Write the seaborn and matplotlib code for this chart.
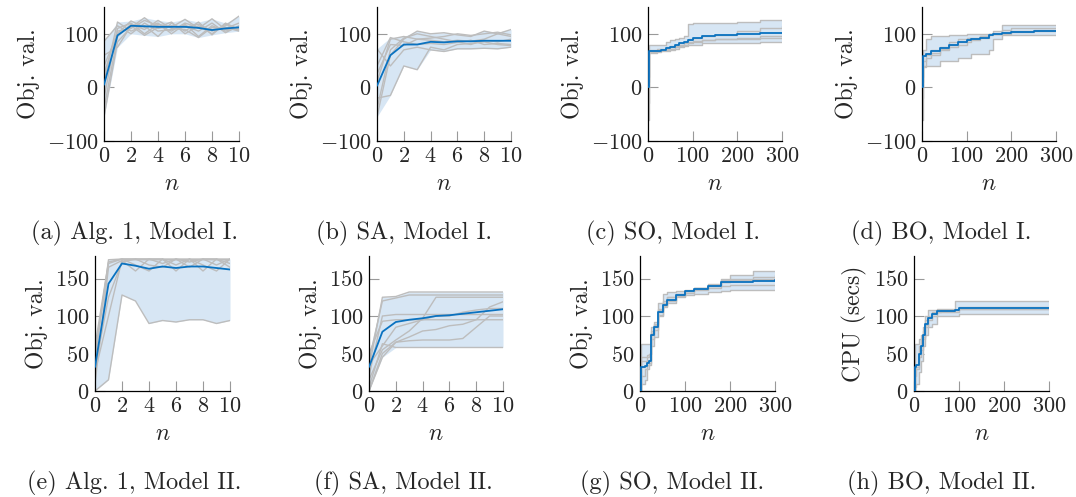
import numpy as np
import pandas as pd
import seaborn as sns
import matplotlib
matplotlib.use("Agg")
import matplotlib.pyplot as plt

# ---- data ----
# (a) Alg. 1, Model I
n_a = [0, 1, 2, 3, 4, 5, 6, 7, 8, 9, 10]
runs_a = [
    [-55, 85, 112, 130, 110, 115, 112, 118, 105, 115, 133],
    [-20, 110, 120, 100, 118, 112, 127, 110, 128, 108, 110],
    [10, 122, 105, 115, 95, 120, 105, 122, 98, 120, 108],
    [40, 100, 124, 112, 120, 100, 118, 95, 115, 105, 112],
    [60, 75, 115, 97, 112, 122, 100, 115, 100, 118, 106],
    [86, 115, 100, 120, 105, 108, 115, 105, 120, 102, 115],
    [-40, 95, 118, 108, 125, 110, 108, 93, 112, 110, 120],
    [25, 105, 110, 125, 115, 105, 120, 112, 108, 112, 105],
]
mean_a = [5, 97, 115, 114, 113, 113, 113, 111, 107, 110, 112]

# (b) SA, Model I
n_b = [0, 1, 2, 3, 4, 5, 6, 7, 8, 9, 10]
runs_b = [
    [-55, 60, 90, 105, 100, 102, 98, 95, 105, 100, 108],
    [-20, -15, 40, 33, 75, 70, 80, 82, 85, 80, 78],
    [10, 90, 95, 90, 88, 85, 88, 86, 90, 100, 95],
    [40, 93, 85, 80, 82, 80, 84, 88, 80, 82, 80],
    [72, 40, 70, 75, 70, 67, 72, 72, 73, 72, 75],
    [25, 80, 78, 90, 92, 95, 100, 97, 100, 103, 98],
    [-40, 70, 92, 100, 95, 90, 85, 80, 88, 85, 90],
]
mean_b = [3, 60, 80, 80, 85, 84, 86, 86, 87, 87, 87]

# (c) SO, Model I
n_c = [0, 3, 10, 20, 30, 40, 50, 60, 70, 80, 90, 100, 120, 150, 200, 250, 300]
runs_c = [
    [-60, 80, 80, 80, 80, 85, 88, 90, 92, 95, 118, 120, 120, 120, 122, 125, 125],
    [0, 65, 65, 67, 70, 72, 75, 78, 80, 85, 90, 92, 95, 98, 105, 110, 115],
    [20, 68, 68, 68, 70, 70, 72, 75, 78, 80, 82, 85, 88, 90, 92, 95, 95],
    [-30, 70, 70, 72, 72, 75, 78, 80, 82, 83, 85, 87, 88, 90, 90, 92, 92],
    [10, 66, 66, 66, 67, 67, 70, 72, 75, 78, 80, 80, 82, 82, 83, 84, 85],
]
mean_c = [0, 67, 67, 68, 70, 73, 76, 79, 82, 85, 89, 92, 95, 98, 100, 102, 102]

# (d) BO, Model I
n_d = [0, 3, 10, 20, 40, 60, 80, 100, 110, 130, 150, 160, 180, 200, 250, 300]
runs_d = [
    [-60, 40, 40, 40, 50, 50, 55, 55, 62, 62, 70, 90, 97, 97, 97, 97],
    [0, 60, 62, 70, 75, 80, 85, 88, 90, 92, 98, 100, 100, 103, 105, 105],
    [20, 70, 90, 95, 95, 98, 98, 100, 100, 100, 100, 100, 117, 117, 117, 117],
    [-20, 38, 55, 60, 72, 85, 90, 92, 92, 95, 100, 105, 108, 110, 110, 110],
    [10, 50, 60, 65, 70, 75, 80, 85, 88, 95, 100, 100, 102, 105, 108, 108],
]
mean_d = [0, 58, 63, 67, 73, 80, 85, 88, 90, 92, 97, 100, 102, 103, 105, 106]

# (e) Alg. 1, Model II
n_e = [0, 1, 2, 3, 4, 5, 6, 7, 8, 9, 10]
runs_e = [
    [0, 15, 128, 120, 90, 94, 92, 95, 95, 90, 94],
    [25, 100, 175, 175, 175, 175, 175, 175, 175, 175, 175],
    [60, 172, 176, 168, 160, 176, 160, 176, 168, 160, 176],
    [40, 175, 176, 176, 176, 170, 176, 165, 176, 176, 165],
    [10, 165, 174, 160, 176, 176, 168, 176, 160, 176, 170],
    [50, 170, 176, 176, 168, 165, 176, 172, 176, 168, 176],
    [30, 125, 172, 176, 176, 176, 176, 176, 176, 176, 176],
]
mean_e = [32, 143, 170, 167, 163, 166, 164, 166, 166, 164, 162]

# (f) SA, Model II
n_f = [0, 1, 2, 3, 4, 5, 6, 7, 8, 9, 10]
runs_f = [
    [0, 45, 65, 72, 80, 82, 87, 89, 95, 112, 119],
    [30, 125, 126, 132, 132, 132, 132, 132, 132, 132, 132],
    [5, 63, 58, 58, 58, 58, 58, 58, 58, 58, 58],
    [40, 120, 124, 128, 128, 128, 128, 128, 128, 128, 128],
    [20, 100, 102, 102, 102, 102, 102, 102, 102, 102, 102],
    [50, 93, 95, 95, 95, 95, 95, 95, 95, 95, 95],
    [15, 55, 68, 80, 97, 125, 125, 125, 125, 125, 125],
    [0, 50, 65, 67, 68, 68, 68, 70, 85, 100, 100],
    [35, 60, 85, 90, 95, 100, 100, 105, 108, 110, 110],
]
mean_f = [32, 79, 92, 95, 97, 100, 101, 103, 105, 107, 109]

# (g) SO, Model II
n_g = [0, 2, 10, 15, 20, 25, 30, 40, 50, 60, 80, 100, 120, 150, 180, 200, 250, 300]
runs_g = [
    [0, 63, 63, 63, 63, 75, 90, 118, 130, 132, 133, 135, 138, 142, 150, 155, 160, 160],
    [0, 10, 15, 30, 35, 60, 72, 100, 112, 118, 125, 128, 130, 132, 134, 135, 135, 135],
    [0, 32, 33, 40, 42, 80, 85, 108, 115, 122, 128, 133, 137, 140, 145, 147, 150, 152],
    [0, 40, 40, 45, 50, 78, 88, 105, 118, 125, 130, 134, 138, 143, 146, 148, 148, 148],
    [0, 20, 30, 35, 38, 70, 82, 102, 114, 120, 127, 131, 135, 138, 140, 142, 142, 142],
    [0, 45, 45, 48, 50, 85, 92, 110, 120, 126, 130, 134, 136, 140, 148, 150, 152, 155],
]
mean_g = [0, 32, 33, 38, 40, 75, 85, 105, 115, 122, 128, 133, 136, 140, 145, 146, 147, 148]

# (h) BO, Model II
n_h = [0, 2, 5, 10, 15, 20, 25, 30, 40, 50, 60, 90, 100, 300]
runs_h = [
    [0, 63, 63, 70, 75, 85, 100, 108, 108, 110, 110, 120, 120, 120],
    [0, 5, 10, 25, 40, 60, 75, 85, 90, 100, 100, 100, 103, 103],
    [0, 30, 32, 50, 60, 72, 88, 97, 103, 107, 107, 108, 110, 110],
    [0, 35, 35, 45, 55, 70, 85, 95, 100, 105, 108, 108, 112, 112],
    [0, 20, 30, 60, 70, 80, 95, 100, 105, 106, 106, 106, 110, 110],
]
mean_h = [0, 32, 35, 50, 60, 75, 90, 97, 103, 107, 107, 108, 111, 111]

captions = ["(a) Alg. 1, Model I.", "(b) SA, Model I.", "(c) SO, Model I.", "(d) BO, Model I.",
            "(e) Alg. 1, Model II.", "(f) SA, Model II.", "(g) SO, Model II.", "(h) BO, Model II."]
ylabels = ["Obj. val."] * 7 + ["CPU (secs)"]

panels = [
    (n_a, runs_a, mean_a, False), (n_b, runs_b, mean_b, False),
    (n_c, runs_c, mean_c, True), (n_d, runs_d, mean_d, True),
    (n_e, runs_e, mean_e, False), (n_f, runs_f, mean_f, False),
    (n_g, runs_g, mean_g, True), (n_h, runs_h, mean_h, True),
]

# ---- style ----
sns.set_style("ticks")
plt.rcParams["font.family"] = ["cmr10", "DejaVu Serif"]
plt.rcParams["mathtext.fontset"] = "cm"
plt.rcParams["axes.formatter.use_mathtext"] = True
plt.rcParams["axes.unicode_minus"] = False

blue = "#0a72c0"
band = "#d7e6f4"
grey = "#bdbdbd"

W, H = 1076, 497
fig = plt.figure(figsize=(W / 100, H / 100), dpi=100)

# pixel boxes (left, top, right, bottom)
boxes = [
    (104, 7, 239, 141), (377, 7, 511, 141), (648, 7, 782, 141), (922, 7, 1056, 141),
    (95, 256, 230, 391), (369, 256, 503, 391), (640, 256, 775, 391), (914, 256, 1049, 391),
]

for i, (xs, runs, mean, steps) in enumerate(panels):
    l, t, r, b = boxes[i]
    ax = fig.add_axes([l / W, 1 - b / H, (r - l) / W, (b - t) / H])
    arr = np.array(runs, dtype=float)
    lo, hi = arr.min(axis=0), arr.max(axis=0)
    ds = "steps-post" if steps else "default"
    ax.fill_between(xs, lo, hi, color=band, lw=0, step="post" if steps else None, zorder=1)

    df = pd.DataFrame({
        "n": np.tile(xs, len(runs)),
        "val": arr.ravel(),
        "run": np.repeat(np.arange(len(runs)), len(xs)),
    })
    sns.lineplot(data=df, x="n", y="val", units="run", estimator=None, color=grey,
                 lw=1.0, drawstyle=ds, ax=ax, zorder=2, legend=False)
    sns.lineplot(x=xs, y=mean, color=blue, lw=1.3, drawstyle=ds, ax=ax, zorder=3)

    top_row = i < 4
    if top_row:
        ax.set_ylim(-100, 150)
        ax.set_yticks([-100, 0, 100])
    else:
        ax.set_ylim(0, 180)
        ax.set_yticks([0, 50, 100, 150])
    if steps:
        ax.set_xlim(0, 300)
        ax.set_xticks([0, 100, 200, 300])
    else:
        ax.set_xlim(0, 10)
        ax.set_xticks([0, 2, 4, 6, 8, 10])

    ax.set_xlabel("$n$", fontsize=17, labelpad=5)
    ax.set_ylabel(ylabels[i], fontsize=17, labelpad=5)
    ax.tick_params(direction="in", length=7, width=0.8, color="0.6",
                   labelsize=16, pad=4)
    sns.despine(ax=ax)
    for s in ("left", "bottom"):
        ax.spines[s].set_color("black")
        ax.spines[s].set_linewidth(0.9)

    cx = (i % 4 + 0.5) * 269
    cy = 233 if top_row else 483
    fig.text(cx / W, 1 - cy / H, captions[i], ha="center", va="center", fontsize=17.5)

fig.savefig("out.png", dpi=100)
